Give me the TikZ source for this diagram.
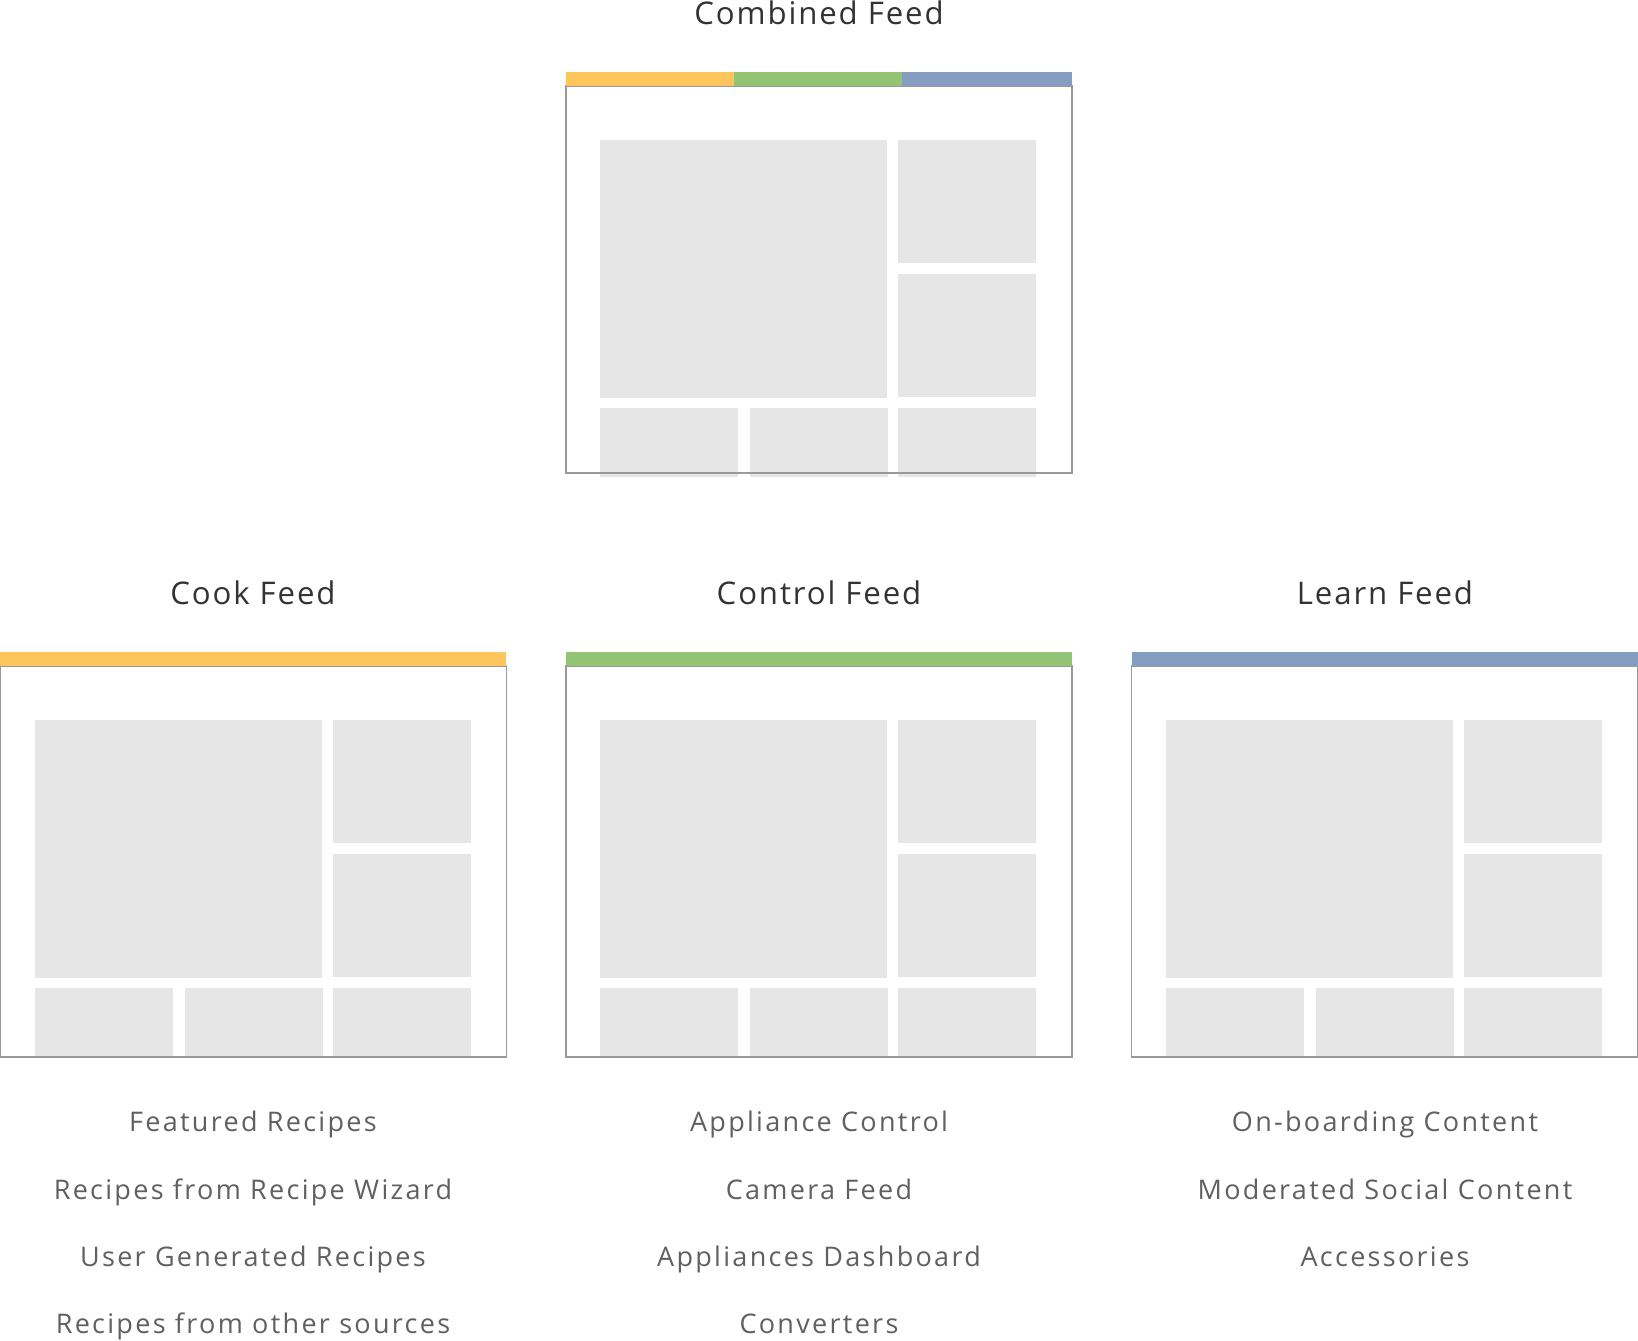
\documentclass[tikz,border=0pt]{standalone}
\usepackage{fontspec}
\setmainfont{Open Sans}[LetterSpace=6]
\newfontfamily\itemfont{Open Sans}[LetterSpace=8.5]
\definecolor{tile}{HTML}{E6E6E6}
\definecolor{frame}{HTML}{999999}
\definecolor{cookc}{HTML}{FDC55B}
\definecolor{ctrlc}{HTML}{92C474}
\definecolor{learnc}{HTML}{869DC2}
\definecolor{headc}{HTML}{333333}
\definecolor{itemc}{HTML}{606060}
\tikzset{
  headtext/.style={anchor=base,text=headc,font=\fontsize{15.6}{18}\selectfont,inner sep=0pt},
  itemtext/.style={anchor=base,text=itemc,font=\itemfont\fontsize{13.5}{16}\selectfont,inner sep=0pt},
  framebox/.style={draw=frame,line width=0.6pt},
}
% #1 left, #2 top, #3 frame bottom offset
\newcommand\feedtiles[3]{%
  \begin{scope}[shift={(#1,#2)}]
    \fill[tile] (34,68) rectangle (321,326);
    \fill[tile] (332,68) rectangle (470,191);
    \fill[tile] (332,202) rectangle (470,325);
    \fill[tile] (34,336) rectangle (172,405);
    \fill[tile] (184,336) rectangle (322,405);
    \fill[tile] (332,336) rectangle (470,405);
    \draw[framebox] (0,14) rectangle (506,#3);
  \end{scope}}
\begin{document}
\begin{tikzpicture}[x=0.5pt,y=-0.5pt]
\useasboundingbox[fill=white] (0,0) rectangle (1638,1340);
% Combined
\feedtiles{566}{72}{401}
\fill[cookc] (566,72) rectangle (734,86);
\fill[ctrlc] (734,72) rectangle (902,86);
\fill[learnc] (902,72) rectangle (1072,86);
\node[headtext] (hcomb) at (819,24) {Combined Feed};
% Cook
\feedtiles{0.5}{652}{405}
\fill[cookc] (0,652) rectangle (506,666);
\node[headtext] (hcook) at (253,604) {Cook Feed};
% Control
\feedtiles{566}{652}{405}
\fill[ctrlc] (566,652) rectangle (1072,666);
\node[headtext] (hctrl) at (819,604) {Control Feed};
% Learn
\feedtiles{1131.5}{652}{405}
\fill[learnc] (1132,652) rectangle (1638,666);
\node[headtext] (hlearn) at (1385,604) {Learn Feed};
% Lists
\node[itemtext] (c1) at (253,1131) {Featured Recipes};
\node[itemtext] (c2) at (253,1199) {Recipes from Recipe Wizard};
\node[itemtext] (c3) at (253,1266) {User Generated Recipes};
\node[itemtext] (c4) at (253,1333) {Recipes from other sources};
\node[itemtext] (k1) at (819,1131) {Appliance Control};
\node[itemtext] (k2) at (819,1199) {Camera Feed};
\node[itemtext] (k3) at (819,1266) {Appliances Dashboard};
\node[itemtext] (k4) at (819,1333) {Converters};
\node[itemtext] (l1) at (1385,1131) {On-boarding Content};
\node[itemtext] (l2) at (1385,1199) {Moderated Social Content};
\node[itemtext] (l3) at (1385,1266) {Accessories};
\end{tikzpicture}
\end{document}
